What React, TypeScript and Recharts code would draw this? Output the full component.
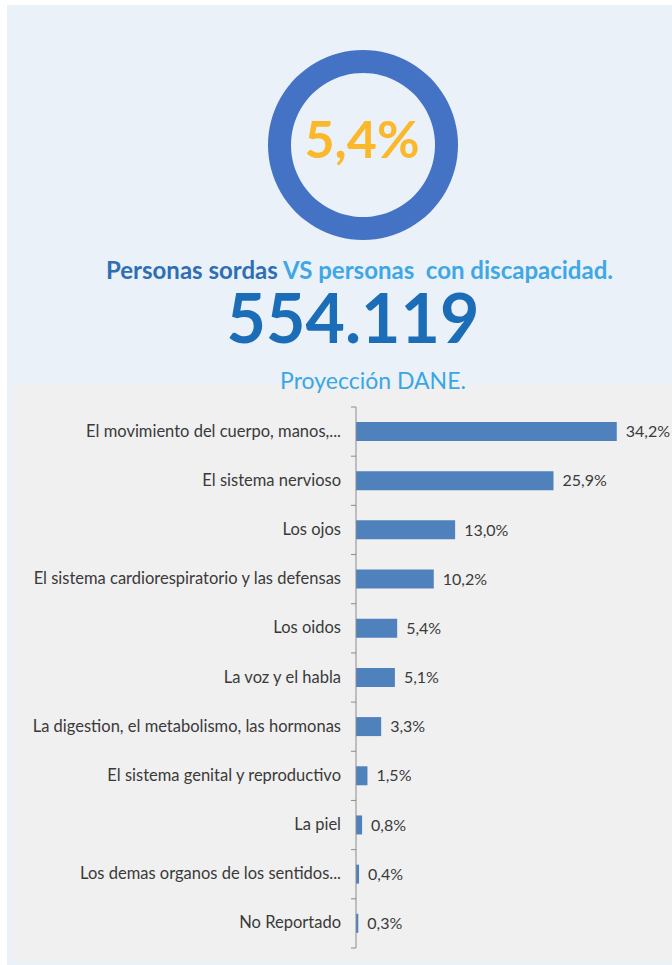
import React from "react";
import { BarChart, Bar, XAxis, YAxis, LabelList, PieChart, Pie, Cell } from "recharts";

const categories = [
  "El movimiento del cuerpo, manos,...",
  "El sistema nervioso",
  "Los ojos",
  "El sistema cardiorespiratorio y las defensas",
  "Los oidos",
  "La voz y el habla",
  "La digestion, el metabolismo, las hormonas",
  "El sistema genital y reproductivo",
  "La piel",
  "Los demas organos de los sentidos...",
  "No Reportado",
];
const percentages = [34.2, 25.9, 13.0, 10.2, 5.4, 5.1, 3.3, 1.5, 0.8, 0.4, 0.3];
const ringShare = [{ name: "Personas sordas", value: 100 }];
const headline = "5,4%";
const total = "554.119";
const titleA = "Personas sordas";
const titleB = "VS personas  con discapacidad.";
const subtitle = "Proyección DANE.";

const data = categories.map((c, i) => ({ name: c, value: percentages[i] }));
const fmt = (v: number) => v.toFixed(1).replace(".", ",") + "%";

const LABEL_FONT = "'Lato', sans-serif";
const TITLE_FONT = "'Lato', 'Open Sans', sans-serif";

const Tick = (props: any) => {
  const { x, y, payload, index } = props;
  const ax = x + 8;
  const off = payload.offset || 0;
  return (
    <g>
      <line x1={ax - 5} x2={ax} y1={y - off} y2={y - off} stroke="#8c8c8c" strokeWidth={1} />
      {index === categories.length - 1 && (
        <line x1={ax - 5} x2={ax} y1={y + off} y2={y + off} stroke="#8c8c8c" strokeWidth={1} />
      )}
      <text x={ax - 15} y={y} dy={5} textAnchor="end" fill="#3a3a3a" fontSize={16.5} fontFamily={LABEL_FONT}>
        {payload.value}
      </text>
    </g>
  );
};

export default function App() {
  return (
    <div style={{ position: "absolute", left: 0, top: 0, width: 672, height: 965, background: "#ffffff", overflow: "hidden" }}>
      <div style={{ position: "absolute", left: 7, top: 5, width: 665, height: 960, background: "#eaf1f9" }} />
      <div style={{ position: "absolute", left: 12, top: 385, width: 660, height: 577, background: "#f0f0f0" }} />
      <div style={{ position: "absolute", left: 0, top: 0 }}>
        <PieChart width={672} height={290}>
          <Pie
            data={ringShare}
            dataKey="value"
            cx={358}
            cy={140}
            innerRadius={72}
            outerRadius={95}
            startAngle={90}
            endAngle={-270}
            stroke="none"
            isAnimationActive={false}
          >
            {ringShare.map((d, i) => (
              <Cell key={i} fill="#4472c4" />
            ))}
          </Pie>
        </PieChart>
      </div>
      <svg style={{ position: "absolute", left: 0, top: 0 }} width={672} height={400}>
        <text x={362} y={158} textAnchor="middle" fontFamily={TITLE_FONT} fontWeight={700} fontSize={52} fill="#fbb82b">
          {headline}
        </text>
        <text x={106} y={279} textAnchor="start" fontFamily={TITLE_FONT} fontWeight={700} fontSize={24} fill="#2e6fb4">
          {titleA}
        </text>
        <text x={283} y={279} textAnchor="start" fontFamily={TITLE_FONT} fontWeight={700} fontSize={24} fill="#3fa7e6" style={{ whiteSpace: "pre" }}>
          {titleB}
        </text>
        <text x={353} y={343} textAnchor="middle" fontFamily={TITLE_FONT} fontWeight={700} fontSize={68} fill="#1c6db8">
          {total}
        </text>
        <text x={373} y={389} textAnchor="middle" fontFamily={TITLE_FONT} fontWeight={400} fontSize={23} fill="#3aa6e3">
          {subtitle}
        </text>
      </svg>
      <div style={{ position: "absolute", left: 0, top: 400 }}>
        <BarChart
          width={672}
          height={560}
          data={data}
          layout="vertical"
          margin={{ top: 7, right: 11, bottom: 12, left: 0 }}
          barSize={19}
        >
          <XAxis type="number" domain={[0, 40]} hide />
          <YAxis
            type="category"
            dataKey="name"
            width={356}
            tick={<Tick />}
            tickLine={false}
            axisLine={{ stroke: "#8c8c8c" }}
            interval={0}
          />
          <Bar dataKey="value" fill="#4f81bd" isAnimationActive={false}>
            <LabelList
              dataKey="value"
              position="right"
              offset={9}
              formatter={(v: any) => fmt(Number(v))}
              style={{ fontSize: 16, fontFamily: LABEL_FONT, fill: "#3a3a3a" }}
            />
          </Bar>
        </BarChart>
      </div>
    </div>
  );
}
